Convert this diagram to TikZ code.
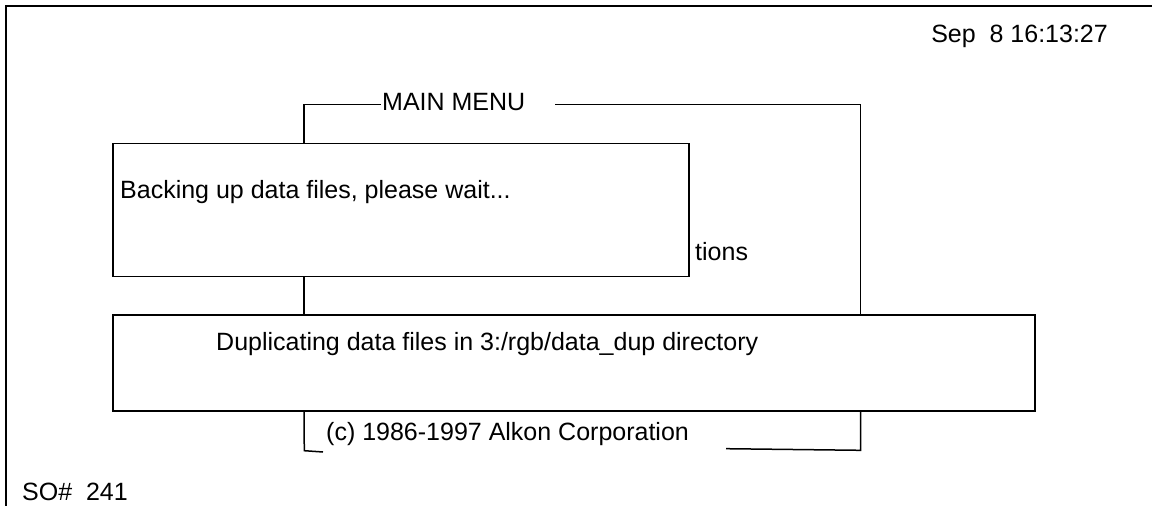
\documentclass[tikz,border=0pt]{standalone}
\usepackage{fontspec}
\setmainfont{Liberation Sans}
\begin{document}
\begin{tikzpicture}[x=1pt,y=-1pt,
  rule/.style={line width=1.5pt},
  panel/.style={draw,line width=1.5pt,anchor=north west,inner sep=0pt,
    minimum width=#1},
  label/.style={anchor=base west,inner sep=0pt,
    font=\fontsize{25}{29}\selectfont},
]
\useasboundingbox (0,0) rectangle (1152,506);

% screen frame: left and top edges only
\draw[line width=2.2pt] (6,506) -- (6,6) -- (1152,6);

% status texts
\node[label,anchor=base east] (clock) at (1108,42) {Sep\ \ 8 16:13:27};
\node[label] (order) at (22,500) {SO\#\ \ 241};

% main menu outline
\coordinate (tl) at (304,104.3);
\coordinate (tr) at (860.5,104.3);
\coordinate (trstart) at (555,104.3);
\node[label] (title) at (382,110.5) {MAIN MENU};

% the two message panels
\node[panel=576pt,minimum height=133pt] (backup) at (112,142.5) {};
\node[panel=922pt,minimum height=95.7pt] (dup) at (112,314.3) {};

\node[label] (backtxt) at (120,198) {Backing up data files, please wait...};
\node[label] (tions) at (695,260) {tions};
\node[label] (duptxt) at (216,350) {Duplicating data files in 3:/rgb/data\_dup directory};
\node[label] (copy) at (326,440) {(c) 1986-1997 Alkon Corporation};

% menu border pieces visible around the panels
\draw[rule] (tl |- backup.north) -- (tl) -- ([xshift=-1pt]title.west |- tl);
\draw[rule] (trstart) -- (tr) -- (tr |- dup.north);
\draw[rule] (tl |- backup.south) -- (tl |- dup.north);

\coordinate (bl) at (304.3,450.7);
\coordinate (blend) at (323,452);
\coordinate (brstart) at (726,448.7);
\coordinate (br) at (860.5,450.3);
\draw[rule] (tl |- dup.south) -- (bl) -- (blend);
\draw[rule] (brstart) -- (br) -- (tr |- dup.south);
\end{tikzpicture}
\end{document}
